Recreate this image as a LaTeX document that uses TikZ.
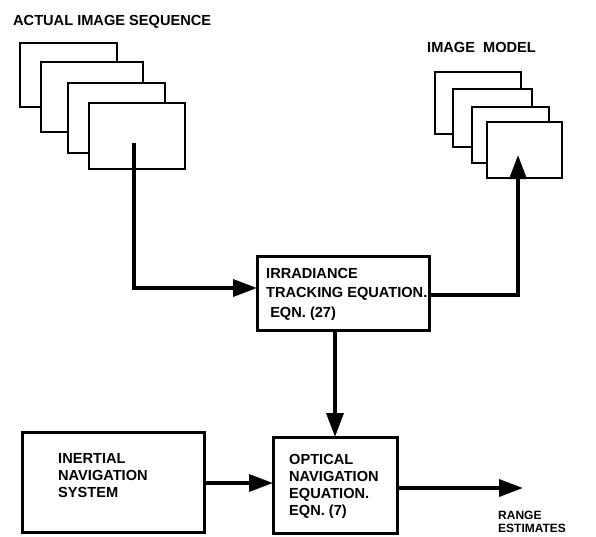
\documentclass[tikz,border=0pt]{standalone}
\usepackage{fontspec}
\setmainfont{Liberation Sans}
\usetikzlibrary{arrows.meta}
\tikzset{
  frame/.style={draw, fill=white, line width=1.9pt, inner sep=0pt, outer sep=0pt, anchor=north west},
  blk/.style={draw, line width=3pt, inner sep=0pt, outer sep=0pt, anchor=north west},
  txt/.style={font=\bfseries\fontsize{14.6}{19.5}\selectfont, inner sep=0pt, anchor=base west, align=left},
  flow/.style={line width=3.5pt, -{Triangle[length=24pt,width=17pt]}},
}
\begin{document}
\begin{tikzpicture}[x=1pt,y=-1pt]
\useasboundingbox (0,0) rectangle (596,536);
% actual image sequence
\node[txt] (tseq) at (13,25) {ACTUAL IMAGE SEQUENCE};
\node[frame, minimum width=97pt, minimum height=64pt] (a1) at (20,43) {};
\node[frame, minimum width=102pt, minimum height=70pt] (a2) at (41,62) {};
\node[frame, minimum width=97pt, minimum height=70pt] (a3) at (68,83) {};
\node[frame, minimum width=96pt, minimum height=66pt] (a4) at (89,103) {};
\coordinate (src) at (134,143);
% image model
\node[txt] (tmod) at (427,52) {IMAGE\ \ MODEL};
\node[frame, minimum width=86pt, minimum height=62pt] (m1) at (435,72) {};
\node[frame, minimum width=79pt, minimum height=58pt] (m2) at (453,89) {};
\node[frame, minimum width=77pt, minimum height=56pt] (m3) at (472,107) {};
\node[frame, minimum width=75pt, minimum height=56pt] (m4) at (487,122) {};
\coordinate (dst) at (518,155);
% irradiance box
\node[blk, minimum width=172pt, minimum height=74pt] (irr) at (257,256) {};
\node[txt] (tirr) at (266,317) {IRRADIANCE\\TRACKING EQUATION.\\\ EQN. (27)};
% inertial box
\node[blk, minimum width=182pt, minimum height=100pt] (ins) at (22,432) {};
\node[txt, font=\bfseries\fontsize{14.6}{17}\selectfont] (tins) at (58,497) {INERTIAL\\NAVIGATION\\SYSTEM};
% optical box
\node[blk, minimum width=124pt, minimum height=96pt] (opt) at (273,437) {};
\node[txt, font=\bfseries\fontsize{14.6}{16.7}\selectfont] (topt) at (289,515) {OPTICAL\\NAVIGATION\\EQUATION.\\EQN. (7)};
% range estimates
\coordinate (rng) at (523,488);
\node[txt, font=\bfseries\fontsize{12}{13}\selectfont] (trng) at (498,532.5) {RANGE\\ESTIMATES};
% connectors
\draw[flow] (src) |- (irr.west |- 0,288);
\draw[flow] (irr.east |- 0,295) -| (dst);
\draw[flow] (irr.south -| 335,0) -- (opt.north -| 335,0);
\draw[flow] (ins.east |- 0,483) -- (opt.west |- 0,483);
\draw[flow] (opt.east |- 0,488) -- (rng);
\end{tikzpicture}
\end{document}
